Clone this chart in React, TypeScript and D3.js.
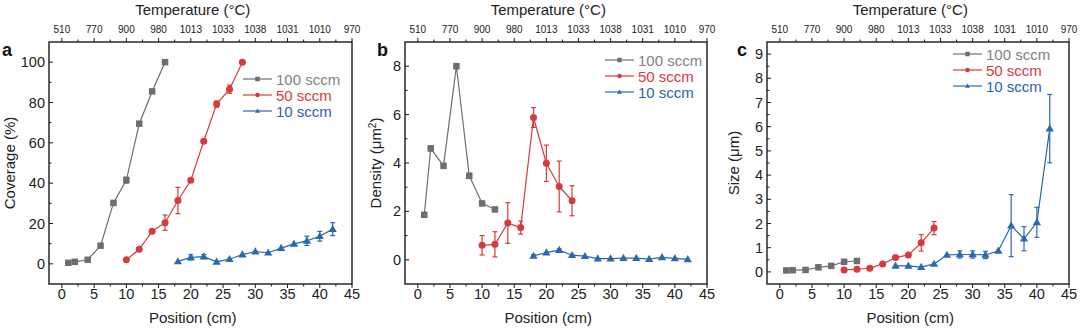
import React from "react";
import * as d3 from "d3";

// ---------- data ----------
const tempLabels = ["510", "770", "900", "980", "1013", "1033", "1038", "1031", "1010", "970"];
const seriesNames = ["100 sccm", "50 sccm", "10 sccm"];

const covX100 = [1, 2, 4, 6, 8, 10, 12, 14, 16];
const covY100 = [0.5, 1, 2, 9, 30.2, 41.5, 69.5, 85.5, 100];
const covE100 = [0, 0, 0, 0, 0, 1.5, 0, 0, 0];
const covX50 = [10, 12, 14, 16, 18, 20, 22, 24, 26, 28];
const covY50 = [2, 7.2, 16.2, 20.4, 31.4, 41.4, 60.8, 79.2, 86.6, 100];
const covE50 = [0, 0, 0, 3.8, 6.5, 0, 1, 1.5, 2, 0];
const covX10 = [18, 20, 22, 24, 26, 28, 30, 32, 34, 36, 38, 40, 42];
const covY10 = [1.2, 3.2, 3.6, 1, 2.3, 4.6, 6.1, 5.5, 7.8, 9.9, 11.4, 13.7, 17.2];
const covE10 = [0, 1.3, 1, 0, 0, 0, 0, 0, 0, 0, 2.3, 2.4, 3.2];

const denX100 = [1, 2, 4, 6, 8, 10, 12];
const denY100 = [1.86, 4.6, 3.88, 8.0, 3.47, 2.33, 2.08];
const denE100 = [0, 0.1, 0.1, 0.1, 0.1, 0, 0.08];
const denX50 = [10, 12, 14, 16, 18, 20, 22, 24];
const denY50 = [0.6, 0.64, 1.52, 1.33, 5.88, 3.99, 3.03, 2.44];
const denE50 = [0.4, 0.52, 0.84, 0.27, 0.41, 0.75, 1.05, 0.62];
const denX10 = [18, 20, 22, 24, 26, 28, 30, 32, 34, 36, 38, 40, 42];
const denY10 = [0.16, 0.3, 0.4, 0.19, 0.15, 0.05, 0.05, 0.07, 0.07, 0.03, 0.1, 0.06, 0.02];
const denE10 = [0.05, 0, 0.05, 0, 0, 0, 0, 0, 0, 0, 0, 0, 0];

const sizX100 = [1, 2, 4, 6, 8, 10, 12];
const sizY100 = [0.06, 0.07, 0.08, 0.19, 0.25, 0.42, 0.45];
const sizE100 = [0, 0, 0, 0, 0, 0, 0];
const sizX50 = [10, 12, 14, 16, 18, 20, 22, 24];
const sizY50 = [0.08, 0.11, 0.15, 0.33, 0.59, 0.7, 1.2, 1.81];
const sizE50 = [0, 0, 0, 0, 0, 0, 0.34, 0.27];
const sizX10 = [18, 20, 22, 24, 26, 28, 30, 32, 34, 36, 38, 40, 42];
const sizY10 = [0.25, 0.25, 0.2, 0.33, 0.7, 0.72, 0.72, 0.7, 0.87, 1.91, 1.37, 2.05, 5.92];
const sizE10 = [0, 0, 0, 0, 0, 0.15, 0.15, 0.15, 0, 1.28, 0.5, 0.62, 1.41];

const xTicks = [0, 5, 10, 15, 20, 25, 30, 35, 40, 45];

// ---------- styles ----------
const FONT = "'Liberation Sans', Arial, Helvetica, sans-serif";
const lineColors = ["#6e6e6e", "#d63a3c", "#2b68b0"];
const textColors = ["#828282", "#d83a3a", "#2a62ad"];
const AXIS = "#1a1a1a";

type Series = { x: number[]; y: number[]; e: number[] };
type Panel = {
  letter: string;
  left: number; right: number; top: number; bottom: number;
  yDomain: [number, number];
  yTicks: number[];
  yMinor: number[];
  yTitle: React.ReactNode;
  yTitleX: number;
  series: Series[];
  legendX: number;
  legendY: number;
  letterX: number;
};

const range = (a: number, b: number, s: number) => d3.range(a, b + s / 2, s);

const panels: Panel[] = [
  {
    letter: "a", left: 49, right: 352, top: 42, bottom: 284,
    yDomain: [-10, 110], yTicks: range(0, 100, 20), yMinor: range(10, 90, 20),
    yTitle: "Coverage (%)", yTitleX: 15,
    series: [
      { x: covX100, y: covY100, e: covE100 },
      { x: covX50, y: covY50, e: covE50 },
      { x: covX10, y: covY10, e: covE10 },
    ],
    legendX: 243, legendY: 79, letterX: 2,
  },
  {
    letter: "b", left: 405, right: 707, top: 42, bottom: 284,
    yDomain: [-1, 9], yTicks: range(0, 8, 2), yMinor: range(1, 7, 2),
    yTitle: (
      <>
        Density (μm<tspan baselineShift="super" fontSize="10">2</tspan>)
      </>
    ),
    yTitleX: 381,
    series: [
      { x: denX100, y: denY100, e: denE100 },
      { x: denX50, y: denY50, e: denE50 },
      { x: denX10, y: denY10, e: denE10 },
    ],
    legendX: 605, legendY: 60, letterX: 377,
  },
  {
    letter: "c", left: 767, right: 1069, top: 42, bottom: 284,
    yDomain: [-0.5, 9.5], yTicks: range(0, 9, 1), yMinor: range(0.5, 8.5, 1),
    yTitle: "Size (μm)", yTitleX: 739,
    series: [
      { x: sizX100, y: sizY100, e: sizE100 },
      { x: sizX50, y: sizY50, e: sizE50 },
      { x: sizX10, y: sizY10, e: sizE10 },
    ],
    legendX: 953, legendY: 54, letterX: 737,
  },
];

function Marker({ kind, cx, cy, s, color }: { kind: number; cx: number; cy: number; s: number; color: string }) {
  if (kind === 0) return <rect x={cx - s / 2} y={cy - s / 2} width={s} height={s} fill={color} />;
  if (kind === 1) return <circle cx={cx} cy={cy} r={s / 2} fill={color} />;
  const h = s * 0.95;
  return (
    <path
      d={`M${cx},${cy - h * 0.6}L${cx + s * 0.55},${cy + h * 0.4}L${cx - s * 0.55},${cy + h * 0.4}Z`}
      fill={color}
    />
  );
}

function PanelView({ p }: { p: Panel }) {
  const x = d3.scaleLinear().domain([-2, 45]).range([p.left, p.right]);
  const y = d3.scaleLinear().domain(p.yDomain).range([p.bottom, p.top]);
  const xMinor = d3.range(2.5, 45, 5);
  const line = d3
    .line<[number, number]>()
    .x((d) => x(d[0]))
    .y((d) => y(d[1]));
  const midY = (p.top + p.bottom) / 2;
  return (
    <g fontFamily={FONT}>
      <text x={p.letterX} y={56} fontSize={18} fontWeight="bold" fill="#111">
        {p.letter}
      </text>
      <text x={x(20.3)} y={15} fontSize={15} textAnchor="middle" fill="#222">
        Temperature (°C)
      </text>
      {xTicks.map((t, i) => (
        <g key={"tt" + t}>
          <line x1={x(t)} x2={x(t)} y1={p.top} y2={p.top - 4} stroke={AXIS} strokeWidth={1} />
          <text x={x(t)} y={p.top - 9} fontSize={10} textAnchor="middle" fill="#222">
            {tempLabels[i]}
          </text>
        </g>
      ))}
      {xMinor.map((t) => (
        <line key={"tm" + t} x1={x(t)} x2={x(t)} y1={p.top} y2={p.top - 2.5} stroke={AXIS} strokeWidth={1} />
      ))}
      {xTicks.map((t) => (
        <g key={"bt" + t}>
          <line x1={x(t)} x2={x(t)} y1={p.bottom} y2={p.bottom + 4} stroke={AXIS} strokeWidth={1} />
          <text x={x(t)} y={p.bottom + 15} fontSize={14.5} textAnchor="middle" fill="#222">
            {t}
          </text>
        </g>
      ))}
      {xMinor.map((t) => (
        <line key={"bm" + t} x1={x(t)} x2={x(t)} y1={p.bottom} y2={p.bottom + 2.5} stroke={AXIS} strokeWidth={1} />
      ))}
      <text x={x(20.3)} y={323} fontSize={15} textAnchor="middle" fill="#222">
        Position (cm)
      </text>
      {p.yTicks.map((t) => (
        <g key={"yt" + t}>
          <line x1={p.left} x2={p.left + 4} y1={y(t)} y2={y(t)} stroke={AXIS} strokeWidth={1} />
          <text x={p.left - 4} y={y(t) + 5} fontSize={14.5} textAnchor="end" fill="#222">
            {t}
          </text>
        </g>
      ))}
      {p.yMinor.map((t) => (
        <line key={"ym" + t} x1={p.left} x2={p.left + 2.5} y1={y(t)} y2={y(t)} stroke={AXIS} strokeWidth={1} />
      ))}
      <text
        transform={`translate(${p.yTitleX},${midY}) rotate(-90)`}
        fontSize={15}
        textAnchor="middle"
        fill="#222"
      >
        {p.yTitle}
      </text>
      <rect
        x={p.left}
        y={p.top}
        width={p.right - p.left}
        height={p.bottom - p.top}
        fill="none"
        stroke={AXIS}
        strokeWidth={1.4}
      />
      {p.series.map((s, k) => {
        const pts: [number, number][] = s.x.map((xv, i) => [xv, s.y[i]]);
        const c = lineColors[k];
        return (
          <g key={"s" + k}>
            <path d={line(pts) || ""} fill="none" stroke={c} strokeWidth={1.2} />
            {s.x.map((xv, i) =>
              s.e[i] > 0 ? (
                <g key={"e" + i} stroke={c} strokeWidth={1.2}>
                  <line x1={x(xv)} x2={x(xv)} y1={y(s.y[i] - s.e[i])} y2={y(s.y[i] + s.e[i])} />
                  <line x1={x(xv) - 2.5} x2={x(xv) + 2.5} y1={y(s.y[i] - s.e[i])} y2={y(s.y[i] - s.e[i])} />
                  <line x1={x(xv) - 2.5} x2={x(xv) + 2.5} y1={y(s.y[i] + s.e[i])} y2={y(s.y[i] + s.e[i])} />
                </g>
              ) : null
            )}
            {s.x.map((xv, i) => (
              <Marker key={"m" + i} kind={k} cx={x(xv)} cy={y(s.y[i])} s={k === 0 ? 6.5 : k === 1 ? 7 : 7.5} color={c} />
            ))}
          </g>
        );
      })}
      {seriesNames.map((n, k) => {
        const ly = p.legendY + k * 16;
        return (
          <g key={"l" + k}>
            <line x1={p.legendX} x2={p.legendX + 29} y1={ly} y2={ly} stroke={lineColors[k]} strokeWidth={1.2} />
            <Marker kind={k} cx={p.legendX + 14.5} cy={ly} s={4.5} color={lineColors[k]} />
            <text x={p.legendX + 33} y={ly + 5.5} fontSize={15} fill={textColors[k]}>
              {n}
            </text>
          </g>
        );
      })}
    </g>
  );
}

export default function App() {
  return (
    <svg
      width={1080}
      height={329}
      viewBox="0 0 1080 329"
      style={{ position: "absolute", left: 0, top: 0, background: "#fff" }}
    >
      <rect width={1080} height={329} fill="#fff" />
      {panels.map((p) => (
        <PanelView key={p.letter} p={p} />
      ))}
    </svg>
  );
}
